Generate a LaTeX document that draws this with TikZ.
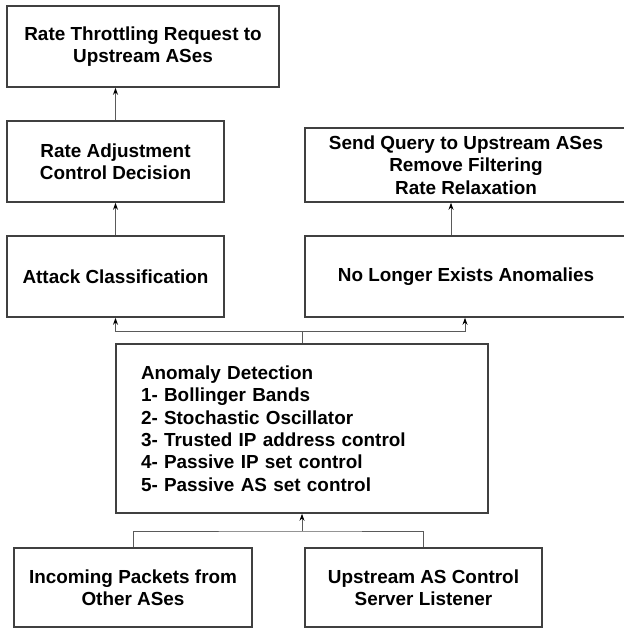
\documentclass[tikz,border=0pt]{standalone}
\usepackage{fontspec}
\setmainfont{Liberation Sans}
\usetikzlibrary{arrows.meta}
\definecolor{boxline}{HTML}{404040}
\definecolor{wire}{HTML}{5A5A5A}
\tikzset{
  box/.style={draw=boxline, line width=1.6pt, rectangle, inner sep=0pt,
    align=center, font=\fontsize{18.9}{22.4}\selectfont\bfseries},
  wirel/.style={draw=wire, line width=0.9pt},
  arr/.style={wirel, -{Stealth[length=7pt,width=5pt,color=black,fill=black]}},
}
\begin{document}
\begin{tikzpicture}[x=1pt,y=-1pt]
\useasboundingbox (0,0) rectangle (623,631);

% action boxes
\node[box, minimum width=272pt, minimum height=81pt] (thr) at (143,46.5)
  {Rate Throttling Request to\\Upstream ASes};
\node[box, minimum width=217pt, minimum height=81pt] (adj) at (115.5,161.5)
  {Rate Adjustment\\Control Decision};
\node[box, minimum width=217pt, minimum height=81pt] (cls) at (115.5,276.5)
  {Attack Classification};
\node[box, minimum width=322pt, minimum height=74pt] (qry) at (466,165)
  {Send Query to Upstream ASes\\Remove Filtering\\Rate Relaxation};
\node[box, minimum width=322pt, minimum height=81pt] (gone) at (466,276.5)
  {No Longer Exists Anomalies};

% detection box
\node[box, minimum width=372pt, minimum height=169pt, align=left,
      text width=322pt, inner xsep=25pt] (anom) at (302,428.5)
  {Anomaly Detection\\
   1- Bollinger Bands\\
   2- Stochastic Oscillator\\
   3- Trusted IP address control\\
   4- Passive IP set control\\
   5- Passive AS set control};

% input boxes
\node[box, minimum width=238pt, minimum height=79pt] (inc) at (133,587.5)
  {Incoming Packets from\\Other ASes};
\node[box, minimum width=237pt, minimum height=79pt] (lst) at (423.5,587.5)
  {Upstream AS Control\\Server Listener};

% junction points
\coordinate (fork) at (302,331);
\coordinate (join) at (302,531);
\coordinate (tapq) at (451,0);
\coordinate (tapg) at (465,0);

% connectors
\draw[arr] (adj.north) -- (adj.north |- thr.south);
\draw[arr] (cls.north) -- (adj.south);
\draw[arr] (tapq |- gone.north) -- (tapq |- qry.south);

\draw[wirel] (anom.north) -- (fork);
\draw[arr] (fork) -| (cls.south);
\draw[arr] (fork) -| (tapg |- gone.south);

\draw[wirel] (inc.north) |- (join) -| (lst.north);
\draw[arr] (join) -- (anom.south);
\end{tikzpicture}
\end{document}
